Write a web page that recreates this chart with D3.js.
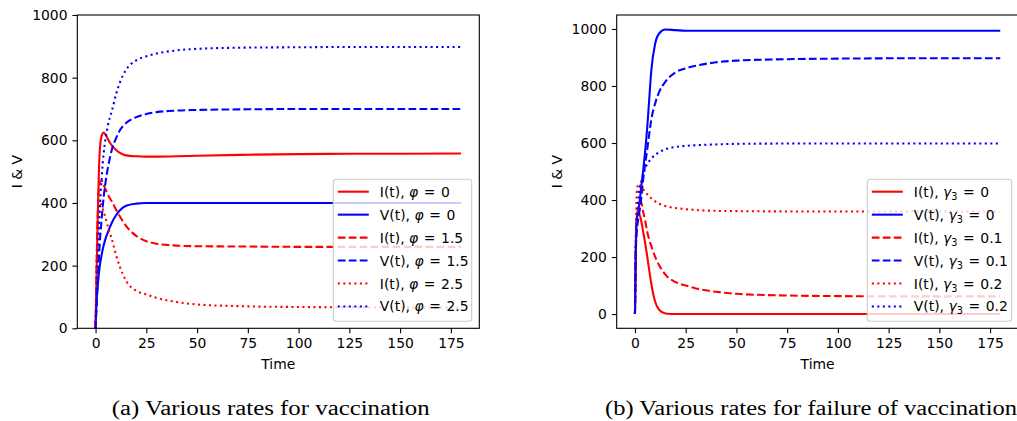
<!DOCTYPE html>
<html>
<head>
<meta charset="utf-8">
<script src="https://cdnjs.cloudflare.com/ajax/libs/d3/7.8.5/d3.min.js"></script>
<style>
  body { margin: 0; background: #fff; }
  svg { display: block; }
  .tick text { font-family: "DejaVu Sans", sans-serif; font-size: 13.9px; fill: #000; }
  .tick line { stroke: #000; stroke-width: 1.1; }
</style>
</head>
<body>
<div id="chart"></div>
<script>
// Sample times shared by every curve
var times = [0, 0.5, 1, 2, 3, 4, 5, 6, 7, 8, 10, 12, 15, 20, 25, 30, 40, 50, 75, 100, 125, 150, 180];

// (a) vaccination rate phi
var iPhi0  = [0, 165, 330, 560, 615, 625, 617, 605, 593, 584, 570, 560, 552, 549, 548, 548, 549, 551, 554, 556, 557, 557, 558];
var vPhi0  = [0, 90, 130, 195, 235, 265, 288, 305, 322, 337, 360, 377, 391, 398, 400, 400, 400, 400, 400, 400, 400, 400, 400];
var iPhi15 = [0, 200, 350, 465, 472, 458, 442, 428, 415, 405, 380, 357, 327, 295, 278, 270, 264, 262, 261, 260, 260, 260, 260];
var vPhi15 = [0, 70, 140, 265, 350, 420, 470, 510, 542, 570, 605, 632, 655, 674, 684, 690, 695, 697, 699, 700, 700, 700, 700];
var iPhi25 = [0, 200, 330, 400, 392, 372, 350, 326, 305, 284, 236, 196, 152, 120, 108, 97, 84, 76, 70, 68, 67, 66, 66];
var vPhi25 = [0, 100, 200, 370, 480, 560, 610, 645, 672, 693, 745, 785, 825, 855, 868, 877, 887, 892, 896, 897, 898, 898, 898];

// (b) vaccination failure rate gamma3
var iGam0  = [0, 250, 340, 352, 330, 290, 250, 205, 155, 108, 42, 14, 2, 0, 0, 0, 0, 0, 0, 0, 0, 0, 0];
var vGam0  = [0, 280, 340, 380, 440, 500, 570, 650, 750, 850, 950, 985, 998, 996, 994, 994, 994, 994, 994, 994, 994, 994, 994];
var iGam01 = [0, 230, 330, 385, 393, 360, 328, 290, 262, 240, 200, 170, 138, 112, 100, 90, 78, 71, 65, 63, 62, 62, 62];
var vGam01 = [0, 250, 300, 350, 400, 470, 525, 575, 630, 680, 740, 780, 815, 848, 862, 871, 883, 889, 894, 896, 897, 897, 897];
var iGam02 = [0, 300, 440, 457, 450, 438, 428, 420, 413, 406, 395, 387, 379, 372, 368, 365, 362, 361, 360, 360, 360, 360, 360];
var vGam02 = [0, 250, 330, 430, 460, 490, 510, 525, 536, 545, 558, 568, 578, 586, 590, 592, 595, 597, 598, 598, 598, 598, 598];

// Legend text pieces
var seriesNames = ["I(t)", "V(t)", "I(t)", "V(t)", "I(t)", "V(t)"];
var phiValues = ["0", "0", "1.5", "1.5", "2.5", "2.5"];
var gamValues = ["0", "0", "0.1", "0.1", "0.2", "0.2"];

// Tick values
var xTicks = [0, 25, 50, 75, 100, 125, 150, 175];
var yTicks = [0, 200, 400, 600, 800, 1000];

var captions = ["(a) Various rates for vaccination", "(b) Various rates for failure of vaccination"];

// Line styles, same order as the series
var colors = ["#ff0000", "#0000ff", "#ff0000", "#0000ff", "#ff0000", "#0000ff"];
var dashes = [null, null, "7.7,3.3", "7.7,3.3", "2.1,3.4", "2.1,3.4"];

var svgWdt = 1017;
var svgHgt = 421;

var svg = d3.select("#chart").append("svg")
    .attr("width", svgWdt)
    .attr("height", svgHgt);

// Draw one panel
function drawPanel(p) {
    var x = d3.scaleLinear().domain([-9, 189]).range([p.left, p.right]);
    var y = d3.scaleLinear().domain(p.yDomain).range([328.3, 15]);

    var grp = svg.append("g");

    // curves
    var line = d3.line()
        .x((d, i) => x(times[i]))
        .y(d => y(d))
        .curve(d3.curveMonotoneX);

    p.series.forEach((s, k) => {
        grp.append("path")
            .attr("d", line(s))
            .attr("fill", "none")
            .attr("stroke", colors[k])
            .attr("stroke-width", 2.08)
            .attr("stroke-dasharray", dashes[k]);
    });

    // axes
    var botAx = d3.axisBottom(x).tickValues(xTicks).tickFormat(d3.format("d"))
        .tickSize(4.9).tickPadding(4.9);
    var lftAx = d3.axisLeft(y).tickValues(yTicks).tickFormat(d3.format("d"))
        .tickSize(4.9).tickPadding(4.9);

    grp.append("g")
        .attr("transform", "translate(0,328.3)")
        .call(botAx)
        .call(g => g.select(".domain").remove());
    grp.append("g")
        .attr("transform", `translate(${p.left},0)`)
        .call(lftAx)
        .call(g => g.select(".domain").remove());

    // frame
    grp.append("rect")
        .attr("x", p.left).attr("y", 15)
        .attr("width", p.right - p.left).attr("height", 328.3 - 15)
        .attr("fill", "none").attr("stroke", "#000").attr("stroke-width", 1.1);

    // axis labels
    grp.append("text")
        .attr("x", (p.left + p.right) / 2).attr("y", 369)
        .attr("text-anchor", "middle")
        .style("font-family", "DejaVu Sans").style("font-size", "13.9px")
        .text("Time");
    grp.append("text")
        .attr("transform", `translate(${p.yLblX},171.7) rotate(-90)`)
        .attr("text-anchor", "middle")
        .style("font-family", "DejaVu Sans").style("font-size", "13.9px")
        .text("I & V");

    // legend
    var lg = grp.append("g");
    lg.append("rect")
        .attr("x", p.lgLeft).attr("y", 179.3)
        .attr("width", p.lgRight - p.lgLeft).attr("height", 321.3 - 179.3)
        .attr("rx", 3).attr("ry", 3)
        .attr("fill", "#fff").attr("fill-opacity", 0.8)
        .attr("stroke", "#cccccc").attr("stroke-width", 1.1);

    seriesNames.forEach((nm, k) => {
        var ly = 191.7 + k * 22.95;
        lg.append("line")
            .attr("x1", p.lgLeft + 4.5).attr("x2", p.lgLeft + 35.5)
            .attr("y1", ly).attr("y2", ly)
            .attr("stroke", colors[k])
            .attr("stroke-width", 2.08)
            .attr("stroke-dasharray", dashes[k]);
        var t = lg.append("text")
            .attr("x", p.lgLeft + 46.5).attr("y", ly + 5)
            .style("font-family", "DejaVu Sans").style("font-size", "13.9px");
        t.append("tspan").text(nm + ", ");
        t.append("tspan").style("font-style", "italic").text(p.symbol);
        if (p.sub) {
            t.append("tspan").style("font-size", "9.7px").attr("dy", 3).text(p.sub);
            t.append("tspan").attr("dy", -3).attr("dx", 1.2).text(" =");
        } else {
            t.append("tspan").attr("dx", 1.2).text(" =");
        }
        t.append("tspan").attr("dx", 1.2).text(" " + p.values[k]);
    });

    // caption
    svg.append("text")
        .attr("x", p.capX).attr("y", 415)
        .attr("textLength", p.capLen)
        .attr("lengthAdjust", "spacingAndGlyphs")
        .style("font-family", "Liberation Serif, serif").style("font-size", "20px")
        .text(p.caption);
}

drawPanel({
    left: 77.3, right: 479.3, yDomain: [0, 1000],
    series: [iPhi0, vPhi0, iPhi15, vPhi15, iPhi25, vPhi25],
    symbol: "\u03c6", sub: null, values: phiValues,
    lgLeft: 333.3, lgRight: 471.7, yLblX: 21.7,
    caption: captions[0], capX: 111.7, capLen: 318
});

drawPanel({
    left: 616.7, right: 1018.5, yDomain: [-50, 1049],
    series: [iGam0, vGam0, iGam01, vGam01, iGam02, vGam02],
    symbol: "\u03b3", sub: "3", values: gamValues,
    lgLeft: 867.3, lgRight: 1011.7, yLblX: 561.7,
    caption: captions[1], capX: 605, capLen: 412
});
</script>
</body>
</html>
